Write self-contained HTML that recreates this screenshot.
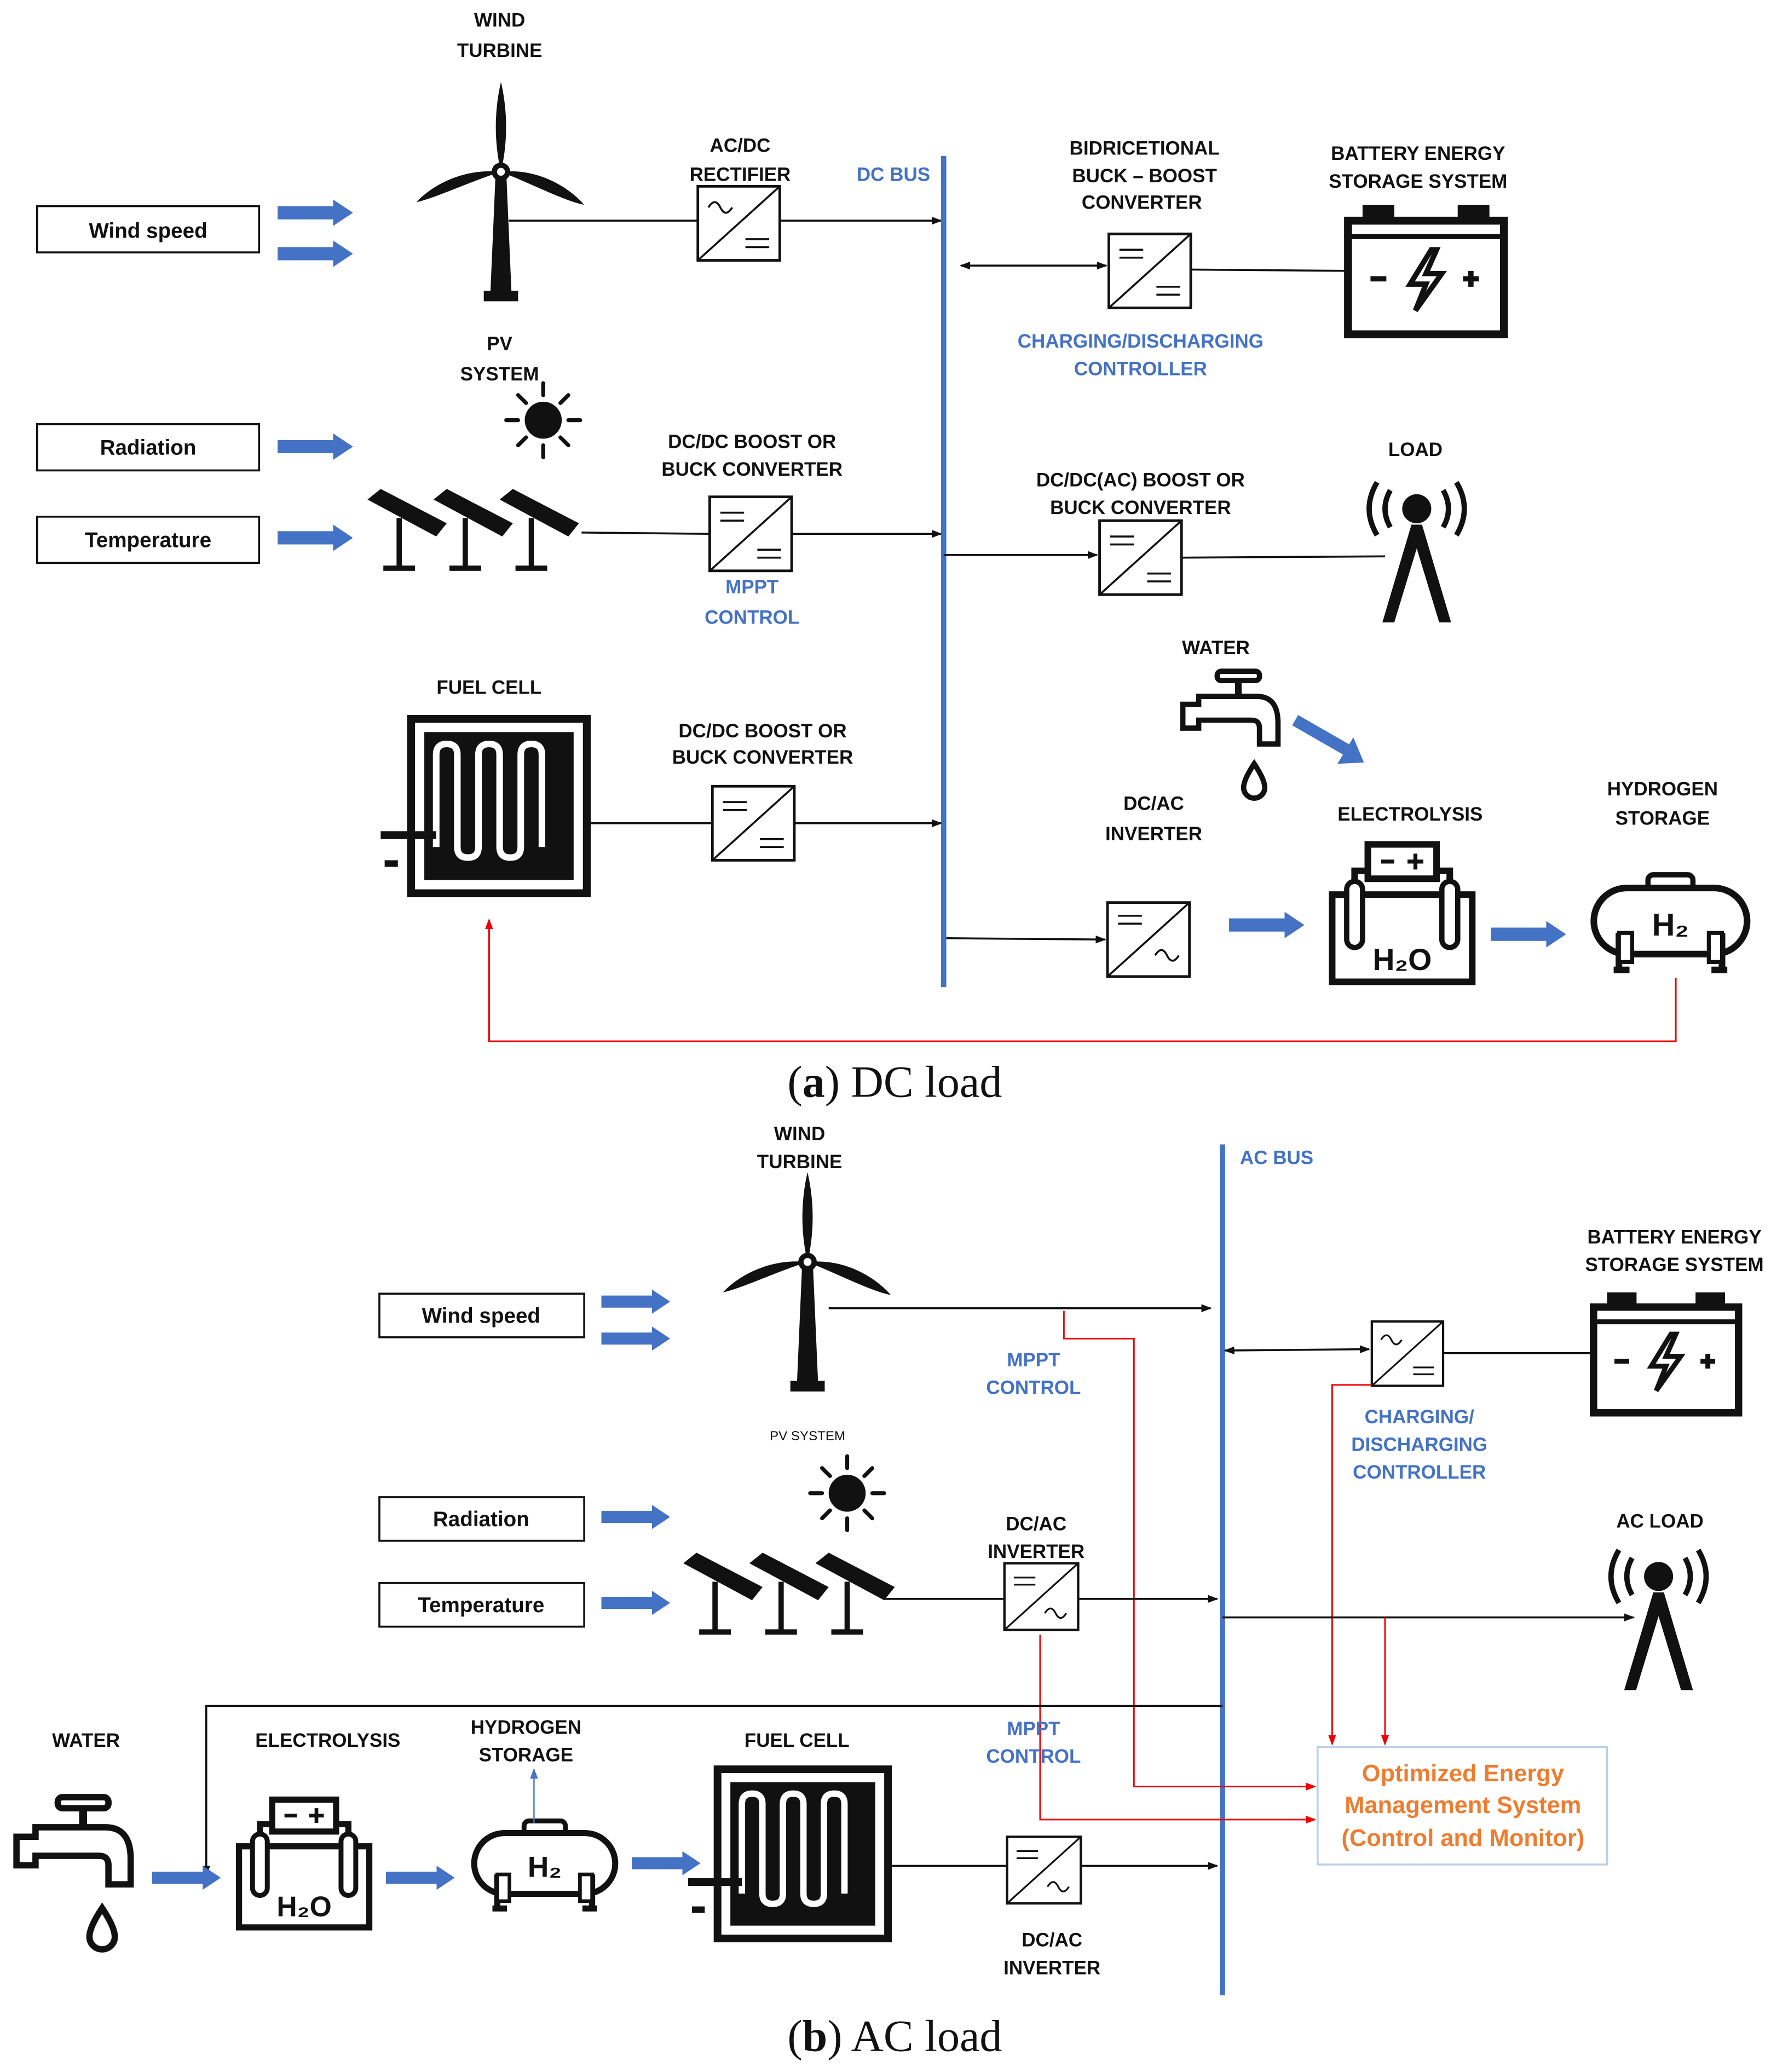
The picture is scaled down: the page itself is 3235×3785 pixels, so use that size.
<!DOCTYPE html>
<html><head><meta charset="utf-8"><style>
html,body{margin:0;padding:0;background:#fff}
svg{display:block}
text{font-family:"Liberation Sans",sans-serif;font-weight:bold;font-size:14.5px;text-anchor:middle;fill:#111}
.b{fill:#4472c4}
.o{fill:#ed7d31;font-size:18px}
.n{font-weight:bold}
.cap{font-family:"Liberation Serif",serif;font-weight:normal;font-size:34px}
</style></head><body>
<svg width="3235" height="3785" viewBox="0 0 1340 1568" xmlns="http://www.w3.org/2000/svg">
<defs>
<marker id="ak" markerWidth="8" markerHeight="8" refX="7" refY="4" orient="auto" markerUnits="userSpaceOnUse"><path d="M0,1 L8,4 L0,7z" fill="#111"/></marker>
<marker id="akS" markerWidth="8" markerHeight="8" refX="1" refY="4" orient="auto" markerUnits="userSpaceOnUse"><path d="M8,1 L0,4 L8,7z" fill="#111"/></marker>
<marker id="ar" markerWidth="8" markerHeight="8" refX="7" refY="4" orient="auto" markerUnits="userSpaceOnUse"><path d="M0,1 L8,4 L0,7z" fill="#e00"/></marker>
<marker id="ab" markerWidth="8" markerHeight="8" refX="7" refY="4" orient="auto" markerUnits="userSpaceOnUse"><path d="M0,1 L8,4 L0,7z" fill="#4472c4"/></marker>
<symbol id="fa" viewBox="0 0 57 20" overflow="visible"><polygon points="0,5 42,5 42,0 57,10 42,20 42,15 0,15" fill="#4472c4"/></symbol>
<g id="dcdc"><rect x="0" y="0" width="62" height="56" fill="#fff" stroke="#111" stroke-width="2"/><line x1="0" y1="56" x2="62" y2="0" stroke="#111" stroke-width="1.5"/><path d="M8,12h18M8,18h18M36,40h18M36,46h18" stroke="#111" stroke-width="1.5"/></g>
<g id="acdc"><rect x="0" y="0" width="62" height="56" fill="#fff" stroke="#111" stroke-width="2"/><line x1="0" y1="56" x2="62" y2="0" stroke="#111" stroke-width="1.5"/><path d="M8,16q5,-8 9,0t9,0" fill="none" stroke="#111" stroke-width="1.5"/><path d="M36,40h18M36,46h18" stroke="#111" stroke-width="1.5"/></g>
<g id="dcac"><rect x="0" y="0" width="62" height="56" fill="#fff" stroke="#111" stroke-width="2"/><line x1="0" y1="56" x2="62" y2="0" stroke="#111" stroke-width="1.5"/><path d="M8,12h18M8,18h18" stroke="#111" stroke-width="1.5"/><path d="M34,42q5,-8 9,0t9,0" fill="none" stroke="#111" stroke-width="1.5"/></g>
<g id="turb"><polygon points="-4,0 4,0 8,92 -8,92" fill="#111"/><rect x="-13" y="90" width="26" height="8" fill="#111"/><path d="M0,0 C-7,-30 -3,-55 0,-68 C3,-55 7,-30 0,0z" fill="#111"/><path d="M0,0 C-25,8 -50,20 -64,23 C-52,10 -28,-3 0,0z" fill="#111"/><path d="M0,0 C28,-3 52,12 63,25 C48,22 25,10 0,0z" fill="#111"/><circle r="7" fill="#111"/><circle r="3" fill="#fff"/></g>
<g id="sun"><circle r="14" fill="#111"/><g stroke="#111" stroke-width="3" stroke-linecap="round"><path d="M0,-19v-9M0,19v9M-19,0h-9M19,0h9M13,-13l6,-6M-13,13l-6,6M13,13l6,6M-13,-13l-6,-6"/></g></g>
<g id="panel"><g fill="#111"><polygon points="0,8 10,0 60,26 52,36"/><rect x="22" y="22" width="4" height="38"/><rect x="12" y="58" width="24" height="4"/></g></g>
<g id="pv"><use href="#panel" x="0"/><use href="#panel" x="50"/><use href="#panel" x="100"/></g>
<g id="batt"><rect x="14" y="0" width="24" height="12" fill="#111"/><rect x="86" y="0" width="24" height="12" fill="#111"/><rect x="3" y="12" width="118" height="86" fill="#fff" stroke="#111" stroke-width="6"/><line x1="3" y1="24" x2="121" y2="24" stroke="#111" stroke-width="4"/><path d="M20,56h12M90,56h12M96,50v12" stroke="#111" stroke-width="4"/><path d="M66,34 L50,60 L62,60 L54,80 L74,52 L62,52 L70,34z" fill="none" stroke="#111" stroke-width="4"/></g>
<g id="load"><circle cx="0" cy="0" r="11" fill="#111"/><path d="M-20,-14q-8,14 0,28M20,-14q8,14 0,28M-30,-20q-12,20 0,40M30,-20q12,20 0,40" fill="none" stroke="#111" stroke-width="4"/><polygon points="-4,12 4,12 26,86 17,86 0,30 -17,86 -26,86" fill="#111"/></g>
<g id="fc"><rect x="3" y="3" width="133" height="132" fill="#fff" stroke="#111" stroke-width="6"/><rect x="13" y="13" width="113" height="112" fill="#111"/><path d="M22,100 V30 q0,-8 8,-8 q8,0 8,8 V100 q0,8 8,8 q8,0 8,-8 V30 q0,-8 8,-8 q8,0 8,8 V100 q0,8 8,8 q8,0 8,-8 V30 q0,-8 8,-8 q8,0 8,8 V100" fill="none" stroke="#fff" stroke-width="5"/><rect x="-20" y="88" width="42" height="6" fill="#111"/><rect x="-17" y="110" width="10" height="5" fill="#111"/></g>
<g id="ely"><rect x="3" y="40" width="106" height="66" fill="#fff" stroke="#111" stroke-width="5"/><rect x="30" y="2" width="52" height="26" fill="#fff" stroke="#111" stroke-width="5"/><path d="M40,15h10M60,15h12M66,9v12" stroke="#111" stroke-width="3"/><path d="M28,22 h-8 v55 M84,22 h8 v55" fill="none" stroke="#111" stroke-width="5"/><rect x="14" y="30" width="12" height="50" rx="6" fill="#fff" stroke="#111" stroke-width="4"/><rect x="86" y="30" width="12" height="50" rx="6" fill="#fff" stroke="#111" stroke-width="4"/><text x="56" y="97" style="font-size:23px;font-weight:bold">H₂O</text></g>
<g id="tank"><rect x="44" y="0" width="34" height="12" rx="4" fill="#fff" stroke="#111" stroke-width="4"/><rect x="3" y="10" width="116" height="50" rx="25" fill="#fff" stroke="#111" stroke-width="5"/><path d="M22,44 v28 M18,72h12M100,44 v28 M92,72h12" stroke="#111" stroke-width="5"/><rect x="22" y="44" width="10" height="22" fill="#fff" stroke="#111" stroke-width="3"/><rect x="90" y="44" width="10" height="22" fill="#fff" stroke="#111" stroke-width="3"/><text x="61" y="46" style="font-size:24px;font-weight:bold">H₂</text></g>
<g id="tap"><rect x="28" y="0" width="32" height="7" rx="3" fill="#fff" stroke="#111" stroke-width="4"/><path d="M44,7v12" stroke="#111" stroke-width="5"/><path d="M2,25 h12 v-6 h44 q16,0 16,20 v16 h-14 v-12 q0,-6 -6,-6 h-40 v6 h-12z" fill="#fff" stroke="#111" stroke-width="4"/><path d="M56,70 q-8,12 -8,18 a8,8 0 0 0 16,0 q0,-6 -8,-18z" fill="#fff" stroke="#111" stroke-width="4"/></g>
</defs>
<rect width="1340" height="1568" fill="#fff"/>

<!-- ============ (a) ============ -->
<text x="378" y="20">WIND</text><text x="378" y="43">TURBINE</text>
<use href="#turb" x="379" y="130"/>
<rect x="28" y="156" width="168" height="35" fill="#fff" stroke="#111" stroke-width="1.5"/><text x="112" y="180" style="font-size:16px" class="n">Wind speed</text>
<use href="#fa" x="210" y="151" width="57" height="20"/><use href="#fa" x="210" y="182" width="57" height="20"/>
<line x1="385" y1="167" x2="528" y2="167" stroke="#111" stroke-width="1.5"/>
<use href="#acdc" x="528" y="141"/>
<line x1="590" y1="167" x2="712" y2="167" stroke="#111" stroke-width="1.5" marker-end="url(#ak)"/>
<text x="560" y="115">AC/DC</text><text x="560" y="137">RECTIFIER</text>
<text x="676" y="137" class="b">DC BUS</text>
<line x1="714" y1="118" x2="714" y2="747" stroke="#4472c4" stroke-width="4"/>
<text x="866" y="117">BIDRICETIONAL</text><text x="866" y="138">BUCK – BOOST</text><text x="864" y="158">CONVERTER</text>
<line x1="727" y1="201" x2="837" y2="201" stroke="#111" stroke-width="1.5" marker-start="url(#akS)" marker-end="url(#ak)"/>
<use href="#dcdc" x="839" y="177"/>
<line x1="901" y1="204" x2="1022" y2="205" stroke="#111" stroke-width="1.5"/>
<text x="1073" y="121">BATTERY ENERGY</text><text x="1073" y="142">STORAGE SYSTEM</text>
<use href="#batt" x="1017" y="155"/>
<text x="863" y="263" class="b">CHARGING/DISCHARGING</text><text x="863" y="284" class="b">CONTROLLER</text>

<text x="378" y="265">PV</text><text x="378" y="288">SYSTEM</text>
<use href="#sun" x="411" y="318"/>
<rect x="28" y="321" width="168" height="35" fill="#fff" stroke="#111" stroke-width="1.5"/><text x="112" y="344" style="font-size:16px" class="n">Radiation</text>
<rect x="28" y="391" width="168" height="35" fill="#fff" stroke="#111" stroke-width="1.5"/><text x="112" y="414" style="font-size:16px" class="n">Temperature</text>
<use href="#fa" x="210" y="328" width="57" height="20"/><use href="#fa" x="210" y="397" width="57" height="20"/>
<use href="#pv" x="278" y="370"/>
<line x1="440" y1="403" x2="537" y2="404" stroke="#111" stroke-width="1.5"/>
<use href="#dcdc" x="537" y="376"/>
<line x1="599" y1="404" x2="712" y2="404" stroke="#111" stroke-width="1.5" marker-end="url(#ak)"/>
<text x="569" y="339">DC/DC BOOST OR</text><text x="569" y="360">BUCK CONVERTER</text>
<text x="569" y="449" class="b">MPPT</text><text x="569" y="472" class="b">CONTROL</text>

<text x="863" y="368">DC/DC(AC) BOOST OR</text><text x="863" y="389">BUCK CONVERTER</text>
<line x1="714" y1="420" x2="830" y2="420" stroke="#111" stroke-width="1.5" marker-end="url(#ak)"/>
<use href="#dcdc" x="832" y="394"/>
<line x1="894" y1="422" x2="1048" y2="421" stroke="#111" stroke-width="1.5"/>
<text x="1071" y="345">LOAD</text>
<use href="#load" x="1072" y="385"/>

<text x="920" y="495">WATER</text>
<use href="#tap" x="893" y="508"/>
<line x1="980" y1="545" x2="1020" y2="568" stroke="#4472c4" stroke-width="9"/><polygon points="1032,577 1012,578 1024,558" fill="#4472c4"/>
<text x="370" y="525">FUEL CELL</text>
<use href="#fc" x="308" y="541"/>
<line x1="447" y1="623" x2="539" y2="623" stroke="#111" stroke-width="1.5"/>
<use href="#dcdc" x="539" y="595"/>
<line x1="601" y1="623" x2="712" y2="623" stroke="#111" stroke-width="1.5" marker-end="url(#ak)"/>
<text x="577" y="558">DC/DC BOOST OR</text><text x="577" y="578">BUCK CONVERTER</text>
<text x="873" y="613">DC/AC</text><text x="873" y="636">INVERTER</text>
<line x1="716" y1="710" x2="836" y2="711" stroke="#111" stroke-width="1.5" marker-end="url(#ak)"/>
<use href="#acdc" x="838" y="683" transform="rotate(180 869 711)"/>
<use href="#fa" x="930" y="690" width="57" height="20"/>
<text x="1067" y="621">ELECTROLYSIS</text>
<use href="#ely" x="1005" y="637"/>
<use href="#fa" x="1128" y="697" width="57" height="20"/>
<text x="1258" y="602">HYDROGEN</text><text x="1258" y="624">STORAGE</text>
<use href="#tank" x="1203" y="662"/>
<polyline points="1268,740 1268,788 370,788 370,696" fill="none" stroke="#e00" stroke-width="1.3" marker-end="url(#ar)"/>
<text x="677" y="830" class="cap">(<tspan font-weight="bold">a</tspan>) DC load</text>

<!-- ============ (b) ============ -->
<text x="605" y="863">WIND</text><text x="605" y="884">TURBINE</text>
<use href="#turb" x="611" y="955"/>
<rect x="287" y="979" width="155" height="33" fill="#fff" stroke="#111" stroke-width="1.5"/><text x="364" y="1001" style="font-size:16px" class="n">Wind speed</text>
<use href="#fa" x="455" y="975" width="52" height="20"/><use href="#fa" x="455" y="1003" width="52" height="20"/>
<line x1="627" y1="990" x2="916" y2="990" stroke="#111" stroke-width="1.5" marker-end="url(#ak)"/>
<text x="966" y="881" class="b">AC BUS</text>
<line x1="925" y1="866" x2="925" y2="1510" stroke="#4472c4" stroke-width="4"/>
<text x="782" y="1034" class="b">MPPT</text><text x="782" y="1055" class="b">CONTROL</text>
<polyline points="805,992 805,1013 858,1013 858,1352 995,1352" fill="none" stroke="#e00" stroke-width="1.2" marker-end="url(#ar)"/>
<text x="1267" y="941">BATTERY ENERGY</text><text x="1267" y="962">STORAGE SYSTEM</text>
<g transform="translate(1203,978) scale(0.93)"><use href="#batt"/></g>
<line x1="927" y1="1022" x2="1036" y2="1021" stroke="#111" stroke-width="1.5" marker-start="url(#akS)" marker-end="url(#ak)"/>
<use href="#acdc" x="1038" y="1000" transform="translate(1038,1000) scale(0.87) translate(-1038,-1000)"/>
<line x1="1092" y1="1024" x2="1208" y2="1024" stroke="#111" stroke-width="1.5"/>
<text x="1074" y="1077" class="b">CHARGING/</text><text x="1074" y="1098" class="b">DISCHARGING</text><text x="1074" y="1119" class="b">CONTROLLER</text>
<polyline points="1038,1048 1008,1048 1008,1320" fill="none" stroke="#e00" stroke-width="1.2" marker-end="url(#ar)"/>
<text x="611" y="1090" style="font-size:10px;font-weight:normal">PV SYSTEM</text>
<use href="#sun" x="641" y="1130"/>
<rect x="287" y="1133" width="155" height="33" fill="#fff" stroke="#111" stroke-width="1.5"/><text x="364" y="1155" style="font-size:16px" class="n">Radiation</text>
<rect x="287" y="1198" width="155" height="33" fill="#fff" stroke="#111" stroke-width="1.5"/><text x="364" y="1220" style="font-size:16px" class="n">Temperature</text>
<use href="#fa" x="455" y="1138" width="52" height="20"/><use href="#fa" x="455" y="1203" width="52" height="20"/>
<use href="#pv" x="517" y="1175"/>
<line x1="668" y1="1210" x2="760" y2="1210" stroke="#111" stroke-width="1.5"/>
<g transform="translate(760,1183) scale(0.9)"><use href="#dcac"/></g>
<line x1="816" y1="1210" x2="921" y2="1210" stroke="#111" stroke-width="1.5" marker-end="url(#ak)"/>
<text x="784" y="1158">DC/AC</text><text x="784" y="1179">INVERTER</text>
<polyline points="787,1237 787,1377 995,1377" fill="none" stroke="#e00" stroke-width="1.2" marker-end="url(#ar)"/>
<text x="782" y="1313" class="b">MPPT</text><text x="782" y="1334" class="b">CONTROL</text>
<text x="1256" y="1156">AC LOAD</text>
<use href="#load" x="1255" y="1193"/>
<line x1="925" y1="1224" x2="1236" y2="1224" stroke="#111" stroke-width="1.5" marker-end="url(#ak)"/>
<polyline points="1048,1224 1048,1320" fill="none" stroke="#e00" stroke-width="1.2" marker-end="url(#ar)"/>
<rect x="997" y="1322" width="219" height="89" fill="#fff" stroke="#bcd0ea" stroke-width="1.5"/>
<text x="1107" y="1348" class="o">Optimized Energy</text><text x="1107" y="1372" class="o">Management System</text><text x="1107" y="1397" class="o">(Control and Monitor)</text>
<polyline points="925,1291 156,1291 156,1419" fill="none" stroke="#111" stroke-width="1.5" marker-end="url(#ak)"/>
<text x="65" y="1322">WATER</text>
<g transform="translate(10,1360) scale(1.2)"><use href="#tap"/></g>
<use href="#fa" x="115" y="1411" width="52" height="20"/>
<text x="248" y="1322">ELECTROLYSIS</text>
<g transform="translate(178,1360) scale(0.93)"><use href="#ely"/></g>
<use href="#fa" x="292" y="1411" width="52" height="20"/>
<text x="398" y="1312">HYDROGEN</text><text x="398" y="1333">STORAGE</text>
<g transform="translate(356,1378) scale(0.92)"><use href="#tank"/></g>
<line x1="404" y1="1380" x2="404" y2="1339" stroke="#4472c4" stroke-width="1" marker-end="url(#ab)"/>
<use href="#fa" x="478" y="1400" width="52" height="20"/>
<text x="603" y="1322">FUEL CELL</text>
<g transform="translate(540,1336) scale(0.97)"><use href="#fc"/></g>
<line x1="675" y1="1412" x2="762" y2="1412" stroke="#111" stroke-width="1.5"/>
<g transform="translate(762,1390) scale(0.9)"><use href="#dcac"/></g>
<line x1="818" y1="1412" x2="921" y2="1412" stroke="#111" stroke-width="1.5" marker-end="url(#ak)"/>
<text x="796" y="1473">DC/AC</text><text x="796" y="1494">INVERTER</text>
<text x="677" y="1552" class="cap">(<tspan font-weight="bold">b</tspan>) AC load</text>
</svg>
</body></html>
